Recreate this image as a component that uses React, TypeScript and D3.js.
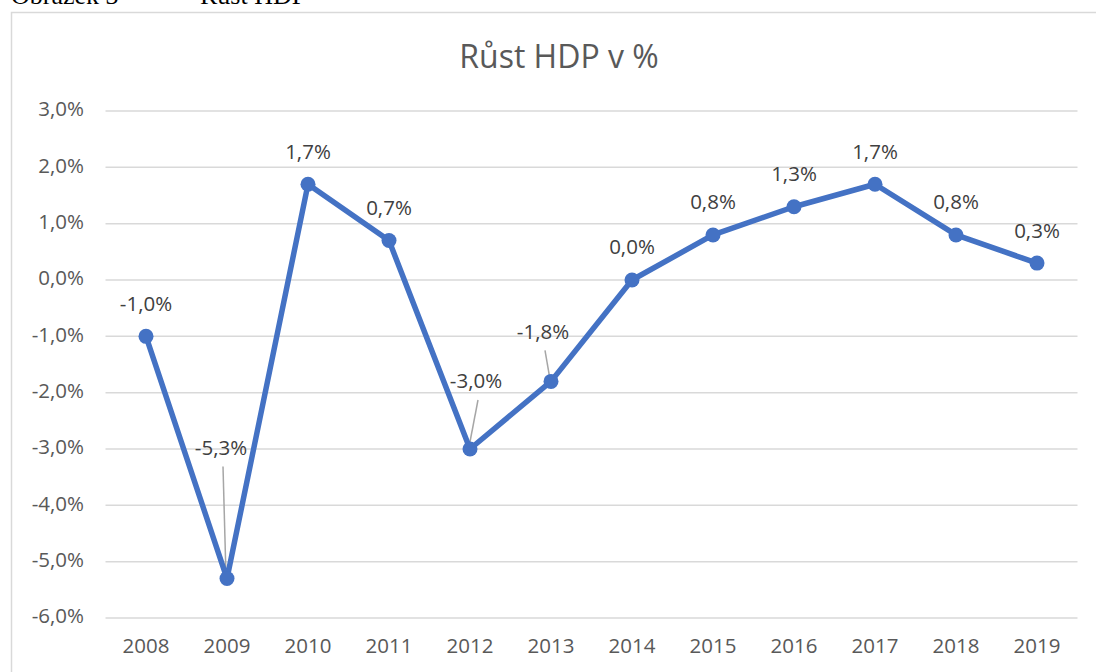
import * as d3 from 'd3';

// chart data
const years = ['2008', '2009', '2010', '2011', '2012', '2013', '2014', '2015', '2016', '2017', '2018', '2019'];
const growth = [-1.0, -5.3, 1.7, 0.7, -3.0, -1.8, 0.0, 0.8, 1.3, 1.7, 0.8, 0.3];
const yTicks = [3, 2, 1, 0, -1, -2, -3, -4, -5, -6];

// labels that Excel pushed away from the marker (offset from point, px)
const labelShift: Record<string, [number, number]> = {
  '2009': [-6, -129],
  '2012': [6, -66],
  '2013': [-8, -48],
};

const W = 1096;
const H = 672;
const margin = { top: 111, right: 18, bottom: 54, left: 105.5 };

const czLocale = d3.formatLocale({
  decimal: ',',
  thousands: ' ',
  grouping: [3],
  currency: ['', ' Kč'],
  minus: '-',
});
const fmt = (v: number) => czLocale.format('.1f')(v) + '%';

const font = '"Open Sans", "Segoe UI", sans-serif';
const serif = '"Liberation Serif", "Times New Roman", serif';
const textColor = '#595959';
const lineColor = '#4472C4';

export default function App() {
  const x = d3.scaleBand<string>()
    .domain(years)
    .range([margin.left, margin.left + 81 * years.length]);

  const y = d3.scaleLinear()
    .domain([-6, 3])
    .range([618, margin.top]);

  const cx = (yr: string) => (x(yr) || 0) + x.bandwidth() / 2;

  const line = d3.line<number>()
    .x((_, i) => cx(years[i]))
    .y(d => y(d));

  const [x0, x1] = x.range();

  return (
    <svg
      width={W}
      height={H}
      style={{ position: 'absolute', left: 0, top: 0, background: '#fff' }}
    >
      {/* caption of the figure, cut by the page edge */}
      <text x={11} y={4} fontFamily={serif} fontSize={26} fill="#000">
        Obrázek 3
      </text>
      <text x={200} y={4} fontFamily={serif} fontSize={26} fill="#000">
        Růst HDP
      </text>

      {/* chart area border */}
      <rect x={11.5} y={12.5} width={W + 20} height={H + 20} fill="#fff" stroke="#d9d9d9" strokeWidth={1.5} />

      {/* title */}
      <text x={559} y={59} textAnchor="middle" dominantBaseline="middle" fontFamily={font} fontSize={32} fill={textColor}>
        Růst HDP v %
      </text>

      {/* gridlines + y labels */}
      {yTicks.map(t => (
        <g key={t}>
          <line x1={x0} x2={x1} y1={y(t)} y2={y(t)} stroke="#d9d9d9" strokeWidth={1.5} />
          <text
            x={84}
            y={y(t)}
            textAnchor="end"
            dominantBaseline="middle"
            fontFamily={font}
            fontSize={20.5}
            fill={textColor}
          >
            {fmt(t)}
          </text>
        </g>
      ))}

      {/* x labels */}
      {years.map(yr => (
        <text
          key={yr}
          x={cx(yr)}
          y={648}
          textAnchor="middle"
          dominantBaseline="middle"
          fontFamily={font}
          fontSize={20.5}
          fill={textColor}
        >
          {yr}
        </text>
      ))}

      {/* leader lines */}
      {growth.map((v, i) => {
        const s = labelShift[years[i]];
        if (!s) return null;
        const px = cx(years[i]);
        const py = y(v);
        return (
          <line
            key={'l' + i}
            x1={px + s[0] + 2}
            y1={py + s[1] + 17}
            x2={px - 1}
            y2={py - 2}
            stroke="#a6a6a6"
            strokeWidth={1.5}
          />
        );
      })}

      {/* series */}
      <path d={line(growth) || ''} fill="none" stroke={lineColor} strokeWidth={5.5} strokeLinejoin="round" />
      {growth.map((v, i) => (
        <circle key={'c' + i} cx={cx(years[i])} cy={y(v)} r={7.5} fill={lineColor} />
      ))}

      {/* data labels */}
      {growth.map((v, i) => {
        const s = labelShift[years[i]] || [0, -31];
        return (
          <text
            key={'t' + i}
            x={cx(years[i]) + s[0]}
            y={y(v) + s[1]}
            textAnchor="middle"
            dominantBaseline="middle"
            fontFamily={font}
            fontSize={20.5}
            fill="#404040"
          >
            {fmt(v)}
          </text>
        );
      })}
    </svg>
  );
}
